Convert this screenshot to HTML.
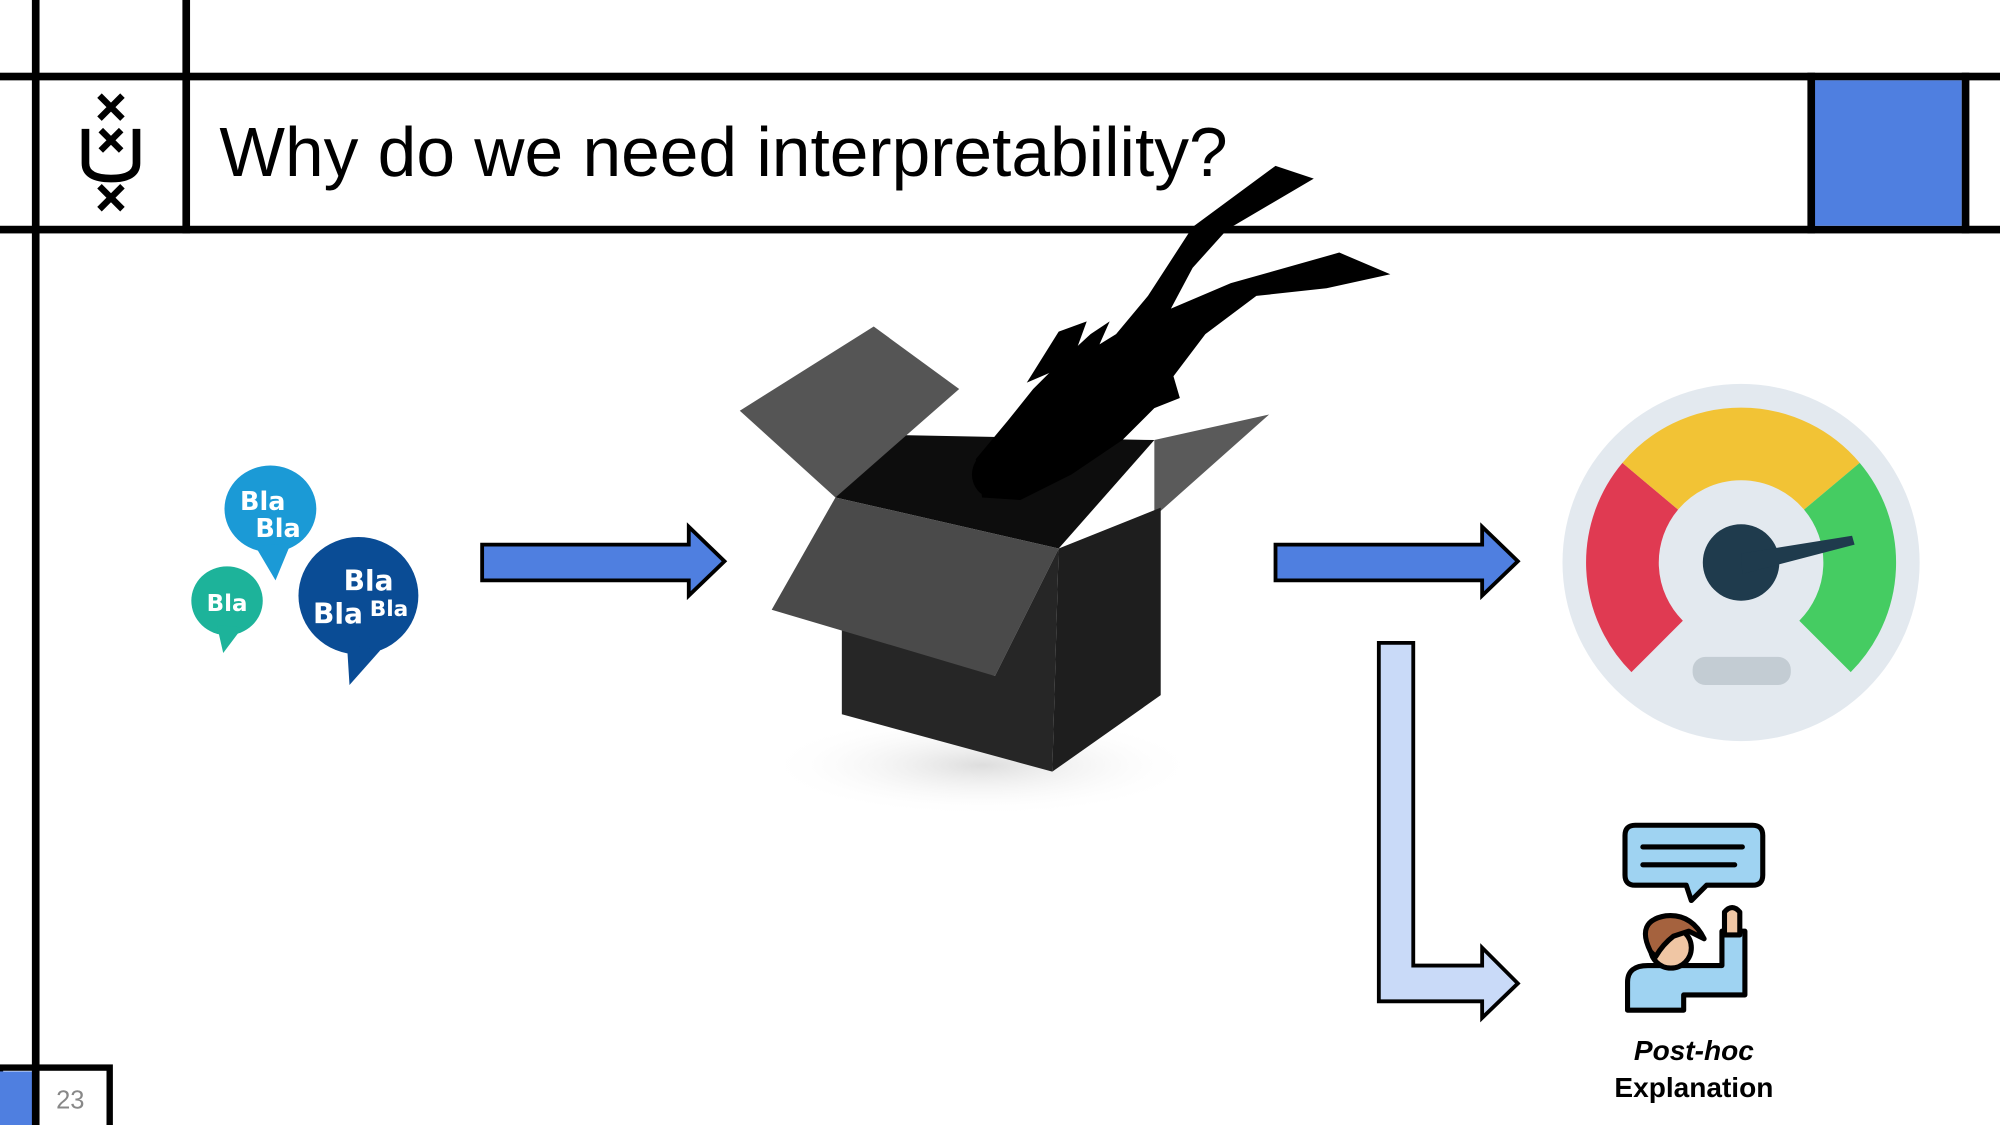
<!DOCTYPE html>
<html><head><meta charset="utf-8"><style>
html,body{margin:0;padding:0;background:#fff;}
svg{display:block;}
</style></head><body>
<svg width="2000" height="1125" viewBox="0 0 1568 882" xmlns="http://www.w3.org/2000/svg">
<defs><radialGradient id="sh" cx="0.5" cy="0.5" r="0.5"><stop offset="0" stop-color="#ddd"/><stop offset="1" stop-color="#fff" stop-opacity="0"/></radialGradient></defs>
<rect width="1568" height="882" fill="#fff"/>
<!-- frame lines -->
<rect x="0" y="57" width="1568" height="6" fill="#000"/>
<rect x="0" y="177" width="1568" height="6" fill="#000"/>
<rect x="25" y="0" width="6" height="882" fill="#000"/>
<rect x="143" y="0" width="6" height="183" fill="#000"/>
<rect x="1422" y="63" width="116" height="114" fill="#4f7fe0"/>
<rect x="1417" y="57" width="6" height="126" fill="#000"/>
<rect x="1538" y="57" width="6" height="126" fill="#000"/>
<!-- logo -->
<g stroke="#000" stroke-width="5" fill="none">
<path d="M78 75 L96 93 M96 75 L78 93"/>
<path d="M79 102 L95 118 M95 102 L79 118"/>
<path d="M78 146 L96 164 M96 146 L78 164"/>
<path d="M67 101 L67 128 Q67 140 87 140 Q107 140 107 128 L107 101" stroke-width="6"/>
</g>
<text x="172" y="138" font-family="Liberation Sans, sans-serif" font-size="54.5" fill="#000">Why do we need interpretability?</text>
<!-- page number -->
<rect x="0" y="837" width="86" height="50" fill="#fff" stroke="#000" stroke-width="5"/>
<rect x="0" y="840" width="26" height="42" fill="#4f7fe0"/>
<rect x="25" y="837" width="6" height="45" fill="#000"/>
<text x="44" y="869" font-family="Liberation Sans, sans-serif" font-size="20" fill="#888">23</text>
<!-- bubbles -->
<ellipse cx="212" cy="399" rx="36" ry="34" fill="#1b9ad6"/>
<path d="M200 428 L216 455 L228 426 Z" fill="#1b9ad6"/>
<text x="206" y="400" font-family="DejaVu Sans, sans-serif" font-weight="bold" font-size="20" fill="#fff" text-anchor="middle">Bla</text>
<text x="218" y="421" font-family="DejaVu Sans, sans-serif" font-weight="bold" font-size="20" fill="#fff" text-anchor="middle">Bla</text>
<ellipse cx="178" cy="471" rx="28" ry="27" fill="#1db39a"/>
<path d="M170 490 L175 512 L190 492 Z" fill="#1db39a"/>
<text x="178" y="479" font-family="DejaVu Sans, sans-serif" font-weight="bold" font-size="18" fill="#fff" text-anchor="middle">Bla</text>
<ellipse cx="281" cy="467" rx="47" ry="46" fill="#0a4c95"/>
<path d="M272 505 L274 537 L298 510 Z" fill="#0a4c95"/>
<text x="289" y="463" font-family="DejaVu Sans, sans-serif" font-weight="bold" font-size="22" fill="#fff" text-anchor="middle">Bla</text>
<text x="265" y="489" font-family="DejaVu Sans, sans-serif" font-weight="bold" font-size="22" fill="#fff" text-anchor="middle">Bla</text>
<text x="305" y="483" font-family="DejaVu Sans, sans-serif" font-weight="bold" font-size="17" fill="#fff" text-anchor="middle">Bla</text>
<!-- arrows -->
<path d="M378 427 L540 427 L540 413 L568 440 L540 467 L540 455 L378 455 Z" fill="#4f7fe0" stroke="#000" stroke-width="3"/>
<path d="M1000 427 L1162 427 L1162 413 L1190 440 L1162 467 L1162 455 L1000 455 Z" fill="#4f7fe0" stroke="#000" stroke-width="3"/>
<path d="M1081 504 L1108 504 L1108 757 L1162 757 L1162 743 L1190 771 L1162 798 L1162 785 L1081 785 Z" fill="#c9daf8" stroke="#000" stroke-width="3"/>
<!-- box -->
<ellipse cx="770" cy="600" rx="170" ry="40" fill="url(#sh)"/>
<path d="M650 340 L905 345 L830 430 L655 390 Z" fill="#0d0d0d"/>
<path d="M580 322 L685 256 L752 305 L655 390 Z" fill="#555"/>
<path d="M905 345 L995 325 L905 405 Z" fill="#5a5a5a"/>
<path d="M830 430 L910 398 L910 545 L825 605 Z" fill="#1e1e1e"/>
<path d="M660 478 L780 530 L830 430 L825 605 L660 560 Z" fill="#262626"/>
<path d="M655 390 L830 430 L780 530 L605 478 Z" fill="#4a4a4a"/>
<!-- diver -->
<path d="M765 360 L790 330 L810 305 L830 285 L855 262 L870 252 L862 270 L875 262 L900 232 L935 178 L1000 130 L1030 140 L962 180 L935 210 L918 242 L965 222 L1050 198 L1090 215 L1040 226 L985 232 L945 262 L920 295 L925 312 L905 320 L880 345 L840 372 L800 392 L770 390 Z" fill="#000"/>
<path d="M840 285 L805 300 L830 260 L852 252 Z" fill="#000"/>
<ellipse cx="778" cy="372" rx="16" ry="18" fill="#000"/>
<!-- gauge -->
<circle cx="1365" cy="441" r="140" fill="#e3e9ef"/>
<path d="M1299.2 506.8 A93 93 0 0 1 1293.8 381.2" stroke="#e03a52" stroke-width="57" fill="none"/>
<path d="M1293.8 381.2 A93 93 0 0 1 1436.2 381.2" stroke="#f2c335" stroke-width="57" fill="none"/>
<path d="M1436.2 381.2 A93 93 0 0 1 1430.8 506.8" stroke="#45cc62" stroke-width="57" fill="none"/>
<circle cx="1365" cy="441" r="30" fill="#1f3b4d"/>
<path d="M1365 434 L1452 420 L1454 427 L1366 450 Z" fill="#1f3b4d"/>
<rect x="1327" y="515" width="77" height="22" rx="10" fill="#c3ccd3"/>
<!-- post-hoc icon -->
<g stroke="#000" stroke-width="4" stroke-linejoin="round">
<path d="M1282 647 L1374 647 Q1382 647 1382 655 L1382 686 Q1382 694 1374 694 L1338 694 L1326 706 L1322 694 L1282 694 Q1274 694 1274 686 L1274 655 Q1274 647 1282 647 Z" fill="#9fd3f2"/>
<path d="M1276 792 L1276 770 Q1276 757 1292 757 L1350 757 L1350 730 L1368 730 L1368 780 L1320 780 L1320 792 Z" fill="#9fd3f2"/>
<path d="M1352 733 L1352 715 Q1358 708 1364 715 L1364 733 Z" fill="#f0c6a4"/>
<circle cx="1310" cy="743" r="16" fill="#f0c6a4"/>
<path d="M1294 746 Q1282 722 1306 718 Q1326 716 1336 736 L1324 730 L1312 734 Q1304 740 1298 750 Z" fill="#a5623e"/>
</g>
<path d="M1288 664 L1366 664 M1288 678 L1360 678" stroke="#000" stroke-width="4" stroke-linecap="round"/>
<text x="1328" y="831" font-family="Liberation Sans, sans-serif" font-weight="bold" font-style="italic" font-size="22" fill="#000" text-anchor="middle">Post-hoc</text>
<text x="1328" y="860" font-family="Liberation Sans, sans-serif" font-weight="bold" font-size="22" fill="#000" text-anchor="middle">Explanation</text>
</svg>
</body></html>
